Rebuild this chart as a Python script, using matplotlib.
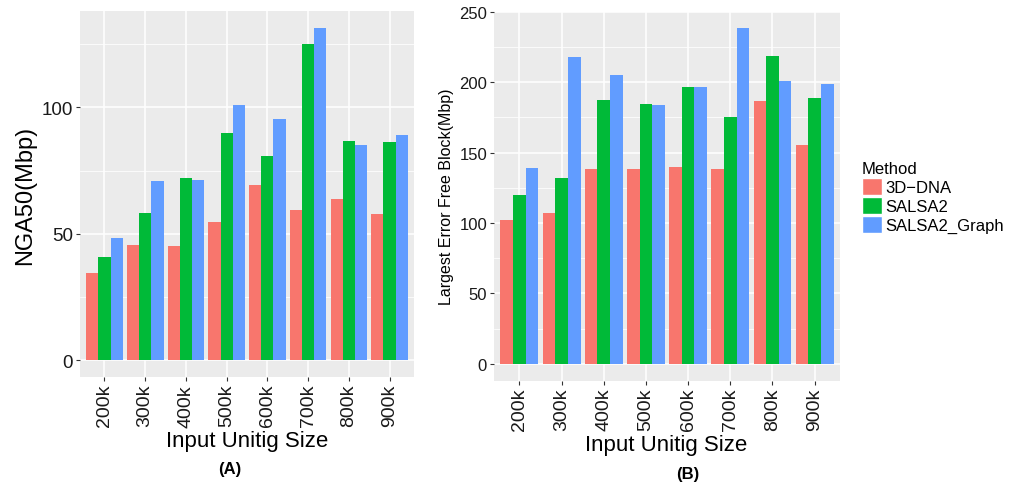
import numpy as np
import matplotlib
matplotlib.use("Agg")
import matplotlib.pyplot as plt
from matplotlib.patches import Patch

plt.rcParams["font.family"] = ["Liberation Sans", "DejaVu Sans"]

sizes = ["200k", "300k", "400k", "500k", "600k", "700k", "800k", "900k"]
methods = ["3D\u2212DNA", "SALSA2", "SALSA2_Graph"]
colors = ["#F8766D", "#00BA38", "#619CFF"]

# panel A: NGA50 (Mbp)
nga50_3ddna = [34.7, 45.7, 45.3, 54.8, 69.4, 59.6, 63.9, 58.0]
nga50_salsa2 = [41.0, 58.4, 72.2, 90.0, 80.9, 125.2, 86.8, 86.4]
nga50_graph = [48.5, 71.0, 71.4, 101.1, 95.5, 131.5, 85.2, 89.2]

# panel B: largest error free block (Mbp)
lefb_3ddna = [101.8, 106.8, 138.0, 138.0, 139.4, 138.0, 186.3, 155.1]
lefb_salsa2 = [119.6, 132.3, 187.0, 184.2, 196.3, 175.0, 218.3, 188.4]
lefb_graph = [138.7, 217.6, 204.8, 183.5, 196.3, 238.2, 200.5, 198.4]

W, H = 1014, 485


def rect(left, top, right, bottom):
    return [left / W, 1 - bottom / H, (right - left) / W, (bottom - top) / H]


def draw_panel(ax, series, major, minor, tick_size):
    ax.set_facecolor("#EBEBEB")
    x = np.arange(1, len(sizes) + 1)
    bw = 0.3
    for i, vals in enumerate(series):
        ax.bar(x + (i - 1) * bw, vals, width=bw, color=colors[i], zorder=3)
    top = max(max(s) for s in series)
    pad = 0.05 * top
    ax.set_ylim(-pad, top + pad)
    ax.set_xlim(0.4, len(sizes) + 0.6)
    ax.set_xticks(x)
    ax.set_xticklabels(sizes, rotation=90, fontsize=14, color="#1a1a1a")
    ax.set_yticks(major)
    ax.set_yticks(minor, minor=True)
    ax.tick_params(axis="y", which="minor", length=0)
    ax.tick_params(axis="both", which="major", length=3, width=0.8,
                   color="#333333", pad=2)
    ax.tick_params(axis="y", labelsize=tick_size, labelcolor="#1a1a1a")
    ax.grid(True, which="major", color="white", linewidth=1.1, zorder=0)
    ax.grid(True, which="minor", axis="y", color="white", linewidth=0.55, zorder=0)
    ax.set_axisbelow(True)
    for s in ax.spines.values():
        s.set_visible(False)


fig = plt.figure(figsize=(W / 100, H / 100), dpi=100)

ax1 = fig.add_axes(rect(80, 12, 414, 378))
draw_panel(ax1, [nga50_3ddna, nga50_salsa2, nga50_graph],
           [0, 50, 100], [25, 75, 125], 13.5)
ax1.set_ylabel("NGA50(Mbp)", fontsize=17, labelpad=4)

ax2 = fig.add_axes(rect(494, 12.5, 840, 381.7))
draw_panel(ax2, [lefb_3ddna, lefb_salsa2, lefb_graph],
           [0, 50, 100, 150, 200, 250], [25, 75, 125, 175, 225], 12)
ax2.set_ylabel("Largest Error Free Block(Mbp)", fontsize=11.5, labelpad=4)

fig.text(247 / W, 1 - 442 / H, "Input Unitig Size", fontsize=16,
         ha="center", va="center")
fig.text(666 / W, 1 - 446 / H, "Input Unitig Size", fontsize=16,
         ha="center", va="center")
fig.text(230 / W, 1 - 470 / H, "(A)", fontsize=12, fontweight="bold",
         ha="center", va="center")
fig.text(688 / W, 1 - 475 / H, "(B)", fontsize=12, fontweight="bold",
         ha="center", va="center")

handles = [Patch(facecolor=c, edgecolor="white", linewidth=1) for c in colors]
fig.legend(handles, methods, title="Method", loc="upper left",
           bbox_to_anchor=(855 / W, 1 - 155 / H), frameon=False,
           fontsize=12, title_fontsize=12, handlelength=1.2, handleheight=1.2,
           handletextpad=0.2, labelspacing=0.12, borderaxespad=0,
           alignment="left")

fig.savefig("out.png", dpi=100)
